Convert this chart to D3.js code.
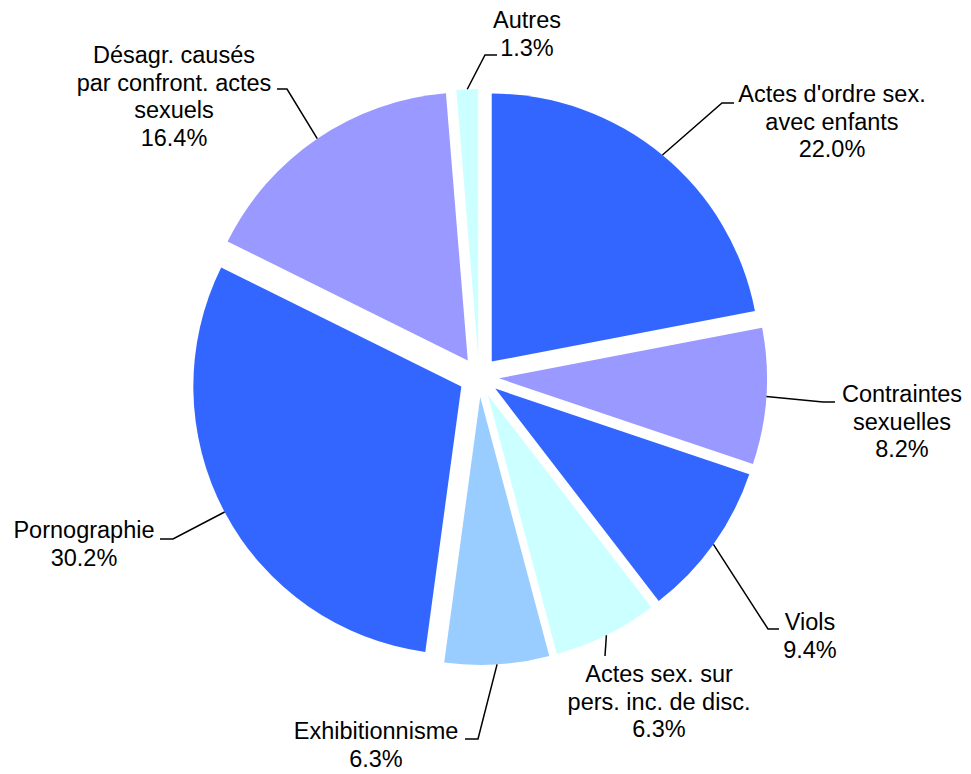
<!DOCTYPE html>
<html>
<head>
<meta charset="utf-8">
<script src="https://cdn.jsdelivr.net/npm/d3@7"></script>
<style>
  body { margin: 0; background: #fff; }
  text { font-family: "Liberation Sans", Arial, sans-serif; font-size: 23.5px; fill: #000; }
</style>
</head>
<body>
<div id="chart"></div>
<script>
// data
var categories = [
    ["Actes d'ordre sex.", "avec enfants"],
    ["Contraintes", "sexuelles"],
    ["Viols"],
    ["Actes sex. sur", "pers. inc. de disc."],
    ["Exhibitionnisme"],
    ["Pornographie"],
    ["Désagr. causés", "par confront. actes", "sexuels"],
    ["Autres"]
];
var values = [22.0, 8.2, 9.4, 6.3, 6.3, 30.2, 16.4, 1.3];
var colors = ["#3366ff", "#9999ff", "#3366ff", "#ccffff", "#99ccff", "#3366ff", "#9999ff", "#ccffff"];

// label placement: text centre x, first baseline y, elbow point, end of the short horizontal
var labelPos = [
    {x: 832, y: 102, ex: 722, ey: 103, hx: 734},
    {x: 902, y: 402, ex: 823, ey: 402, hx: 835},
    {x: 810, y: 630, ex: 768, ey: 629, hx: 779},
    {x: 659, y: 682, ex: 605, ey: 656, hx: 605},
    {x: 376, y: 739, ex: 478, ey: 739, hx: 465},
    {x: 84,  y: 538, ex: 173, ey: 539, hx: 160},
    {x: 174, y: 63,  ex: 287, ey: 89,  hx: 277},
    {x: 527, y: 28,  ex: 485, ey: 55,  hx: 497}
];

var svgWidth = 971, svgHeight = 774;
var cx = 479, cy = 377;
var radius = 268;
var explode = 20;
var lineH = 27.5;

var svg = d3.select("#chart").append("svg")
    .attr("width", svgWidth)
    .attr("height", svgHeight);

var pie = d3.pie().sort(null).value(d => d);
var arcs = pie(values);
var arc = d3.arc().innerRadius(0).outerRadius(radius);

var g = svg.append("g").attr("transform", `translate(${cx}, ${cy})`);

function midOf(d) { return (d.startAngle + d.endAngle) / 2; }

// slices, each pushed out along its bisector
g.selectAll("path.slice")
    .data(arcs)
    .enter()
    .append("path")
    .attr("class", "slice")
    .attr("d", arc)
    .attr("fill", (d, i) => colors[i])
    .attr("transform", d => {
        var a = midOf(d);
        return `translate(${explode * Math.sin(a)}, ${-explode * Math.cos(a)})`;
    });

// leader lines
arcs.forEach(function(d, i) {
    var a = midOf(d);
    var sx = cx + (explode + radius) * Math.sin(a);
    var sy = cy - (explode + radius) * Math.cos(a);
    var p = labelPos[i];
    svg.append("polyline")
        .attr("points", `${sx},${sy} ${p.ex},${p.ey} ${p.hx},${p.ey}`)
        .attr("fill", "none")
        .attr("stroke", "#000")
        .attr("stroke-width", 1.5);
});

// labels
arcs.forEach(function(d, i) {
    var p = labelPos[i];
    var lines = categories[i].concat([d.data.toFixed(1) + "%"]);
    var t = svg.append("text")
        .attr("text-anchor", "middle")
        .attr("x", p.x)
        .attr("y", p.y);
    lines.forEach(function(l, k) {
        t.append("tspan")
            .attr("x", p.x)
            .attr("y", p.y + k * lineH)
            .text(l);
    });
});
</script>
</body>
</html>
